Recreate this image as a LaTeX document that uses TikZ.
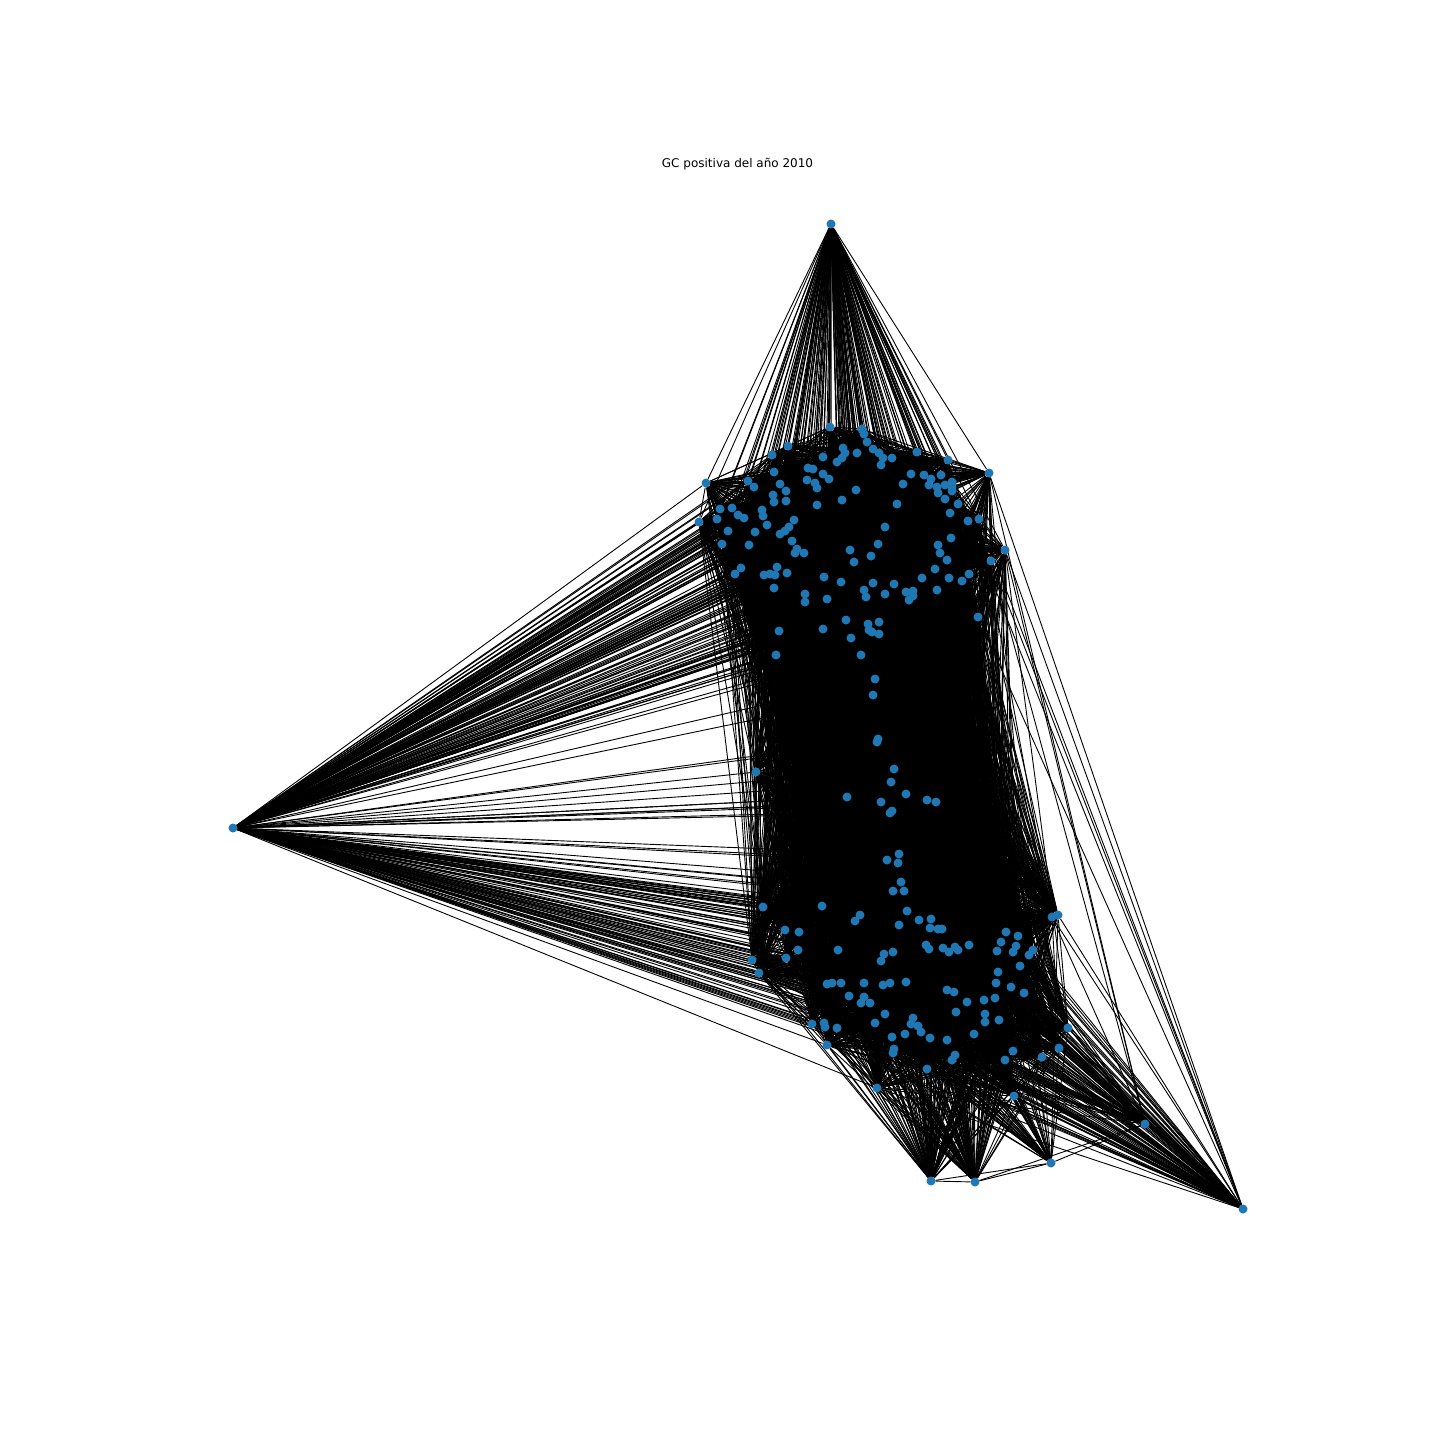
\documentclass[tikz,border=0pt]{standalone}
\usepackage{fontspec}
\setmainfont{DejaVu Sans}
\definecolor{nodeBlue}{RGB}{31, 119, 180}
\usepackage{tikz}
\usetikzlibrary{backgrounds}

\begin{document}
\begin{tikzpicture}[
    x=1pt, y=-1pt,
    vertex/.style={circle, fill=nodeBlue, inner sep=0pt, minimum size=9pt},
    edge/.style={black, line width=0.9pt},
    mytitle/.style={font=\fontsize{12}{14}\selectfont, anchor=base},
  ]
    \useasboundingbox (0,0) rectangle (1440,1440);

    % Title
    \node[mytitle] (TITLE) at (737.5,167) {GC positiva del año 2010};

    % Core of the giant component
    \foreach \x/\y [count=\i] in {
        830/427, 862/429, 864/434, 867/442, 788/446, 843/448, 873/449, 917/452,
        772/455, 845/453, 857/453, 879/453, 823/457, 842/458, 883/458, 892/458,
        837/462, 948/460, 881/465, 808/468, 813/469, 774/472, 989/473, 823/474,
        911/474, 924/475, 941/475, 829/479, 931/479, 748/481, 807/480, 706/483,
        780/484, 815/483, 903/484, 929/485, 945/485, 952/482, 754/487, 817/488,
        937/487, 952/487, 786/491, 856/490, 952/491, 938/493, 773/495, 945/499,
        842/500, 786/501, 774/502, 958/504, 897/504, 817/505, 732/508, 720/509,
        762/510, 950/513, 738/515, 763/516, 744/518, 717/519, 979/519, 794/520,
        968/521, 699/522, 767/525, 789/527, 885/527, 728/531, 785/531, 755/532,
        780/534, 951/538, 792/541, 878/544, 722/544, 749/545, 938/545, 797/549,
        1005/550, 850/550, 795/553, 804/553, 940/553, 871/556, 947/560, 991/561,
        854/562, 777/567, 741/568, 935/569, 969/574, 735/574, 764/575, 770/574,
        775/575, 787/573, 824/577, 922/578, 949/578, 962/581, 841/582, 873/583,
        894/584, 774/588, 864/590, 937/590, 913/591, 906/592, 805/594, 885/594,
        913/596, 866/597, 827/599, 909/600, 805/602, 978/617, 846/620, 879/622,
        868/624, 823/629, 869/630, 779/631, 872/632, 879/634, 851/638, 861/655,
        776/655, 875/679, 873/695, 878/739, 877/742, 894/769, 756/772, 891/782,
        906/794, 847/797, 927/800, 936/802, 881/802, 892/811, 890/813, 899/854,
        887/860, 898/863, 901/882, 893/891, 904/891, 822/906, 763/907, 907/911,
        860/915, 1058/915, 1052/917, 931/919, 919/920, 855/921, 899/925, 930/928,
        938/929, 942/929, 785/930, 799/932, 1006/932, 1018/936, 1001/942, 926/945,
        969/945, 1016/946, 943/948, 929/949, 955/947, 798/950, 838/950, 958/950,
        997/951, 1033/950, 949/952, 893/952, 1013/952, 884/954, 1029/955, 786/958,
        752/960, 881/961, 1020/966, 998/972, 759/973, 906/982, 827/984, 832/983,
        841/983, 864/983, 890/983, 996/983, 883/985, 1011/987, 947/990, 954/992,
        1024/993, 849/996, 864/997, 995/998, 984/1000, 967/1002, 861/1003, 870/1003,
        956/1012, 885/1014, 985/1014, 913/1018, 999/1020, 985/1022, 875/1023, 824/1023,
        812/1024, 911/1024, 918/1026, 825/1027, 837/1028, 1068/1028, 921/1032, 974/1034,
        905/1034, 892/1037, 930/1038, 947/1040, 827/1045, 1059/1048, 894/1049, 1013/1051,
        893/1053, 955/1055, 1042/1057, 952/1060, 1005/1060, 927/1069, 877/1088, 1014/1096}
      \node[vertex] (c\i) at (\x,\y) {};

    % Peripheral nodes
    \node[vertex] (TOP) at (831,224) {};
    \node[vertex] (LEFT) at (233,828) {};
    \node[vertex] (B1) at (931,1181) {};
    \node[vertex] (B2) at (975,1182) {};
    \node[vertex] (B3) at (1051,1163) {};
    \node[vertex] (B4) at (1145,1124) {};
    \node[vertex] (RIGHT) at (1243,1209) {};

    % Edges, under the nodes
    \begin{scope}[on background layer]
      \foreach \i in {1,...,240}
        \foreach \k in {1,2,3,4,5,6,7,9,11,13,15,17,19,21,24,27,31,34,37,40,43,47,50,
                        54,57,61,64,68,71,75,78,82,85,89,92,96,99,103,107,111,115,119} {
          \pgfmathtruncatemacro{\j}{mod(\i+\k-1,240)+1}
          \draw[edge] (c\i) -- (c\j);
        }

      \foreach \i in {1,...,117}
        \draw[edge] (TOP) -- (c\i);
      \foreach \i in {120,123,...,240}
        \draw[edge] (TOP) -- (c\i);

      \foreach \i in {1,...,240}
        \draw[edge] (LEFT) -- (c\i);

      \foreach \i in {144,...,240}
        \draw[edge] (B1) -- (c\i);
      \foreach \i in {144,...,240}
        \draw[edge] (B2) -- (c\i);
      \foreach \i in {144,146,...,240}
        \draw[edge] (B3) -- (c\i);
      \foreach \i in {145,147,...,239}
        \draw[edge] (B4) -- (c\i);
      \foreach \i in {23,81,88}
        \draw[edge] (B4) -- (c\i);
      \foreach \i in {144,...,240}
        \draw[edge] (RIGHT) -- (c\i);
      \foreach \i in {23,63,65,81,88,118}
        \draw[edge] (RIGHT) -- (c\i);

      \draw[edge] (B1) -- (B2);
      \draw[edge] (B1) -- (B3);
      \draw[edge] (B2) -- (B3);
      \draw[edge] (B2) -- (B4);
      \draw[edge] (B3) -- (B4);
    \end{scope}
  \end{tikzpicture}
\end{document}
